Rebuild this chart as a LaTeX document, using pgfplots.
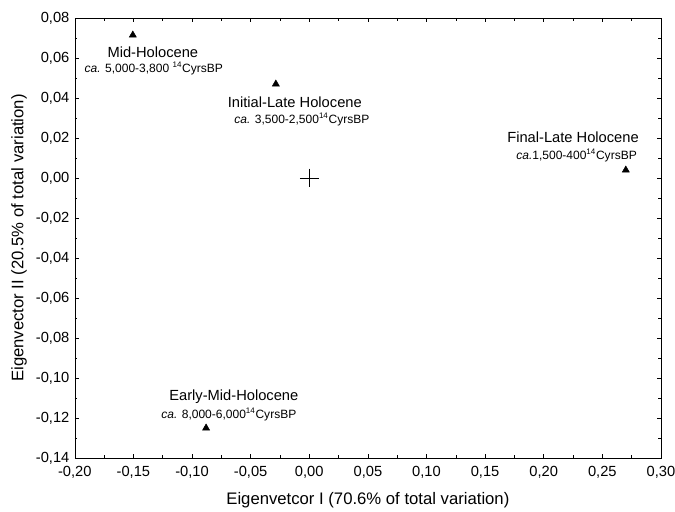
\documentclass[border=0pt]{standalone}
\usepackage{pgfplots}
\pgfplotsset{compat=1.18}
\usepackage{fontspec}
\setmainfont{Liberation Sans}
\begin{document}
\begin{tikzpicture}
\begin{axis}[
  name=ax,
  scale only axis,
  width=439pt, height=329.5pt,
  xmin=-0.20, xmax=0.30, ymin=-0.14, ymax=0.08,
  xtick={-0.20,-0.15,...,0.31}, ytick={-0.14,-0.12,...,0.081},
  minor tick num=1,
  tick align=inside,
  major tick length=3pt, minor tick length=2pt,
  tick style={black, thin},
  axis line style={black, thin},
  /pgf/number format/assume math mode=true,
  /pgf/number format/use comma,
  /pgf/number format/fixed,
  /pgf/number format/fixed zerofill,
  /pgf/number format/precision=2,
  ticklabel style={font=\fontsize{11}{13}\selectfont},
  xticklabel style={yshift=-3pt},
  yticklabel style={xshift=-0.5pt},
  scaled ticks=false,
  xlabel={Eigenvetcor I (70.6\% of total variation)},
  ylabel={Eigenvector II (20.5\% of total variation)},
  label style={font=\fontsize{12.5}{14}\selectfont},
  xlabel style={yshift=-3pt},
  ylabel style={yshift=0pt},
  clip=false,
]
\addplot[only marks, mark=triangle*, mark size=3pt, black] coordinates {
  (-0.1505,0.0715) (-0.0285,0.047) (0.270,0.004) (-0.088,-0.125)
};
\addplot[only marks, mark=+, mark size=7pt, black, thin] coordinates {(0,0)};
\node[font=\fontsize{11}{12}\selectfont] at (axis cs:-0.1334,0.063) {Mid-Holocene};
\node[font=\fontsize{9}{10}\selectfont] at (axis cs:-0.1326,0.0548) {\textit{ca.} 5,000-3,800 \textsuperscript{14}CyrsBP};
\node[font=\fontsize{11}{12}\selectfont] at (axis cs:-0.0123,0.038) {Initial-Late Holocene};
\node[font=\fontsize{9}{10}\selectfont] at (axis cs:-0.0063,0.0293) {\textit{ca.} 3,500-2,500\textsuperscript{14}CyrsBP};
\node[font=\fontsize{11}{12}\selectfont] at (axis cs:0.225,0.0205) {Final-Late Holocene};
\node[font=\fontsize{9}{10}\selectfont] at (axis cs:0.228,0.0112) {\textit{ca.}1,500-400\textsuperscript{14}CyrsBP};
\node[font=\fontsize{11}{12}\selectfont] at (axis cs:-0.0643,-0.1095) {Early-Mid-Holocene};
\node[font=\fontsize{9}{10}\selectfont] at (axis cs:-0.0686,-0.1183) {\textit{ca.} 8,000-6,000\textsuperscript{14}CyrsBP};
\end{axis}
\pgfresetboundingbox
\path[use as bounding box] ([xshift=-56pt,yshift=13.5pt]ax.north west) rectangle ([xshift=10.5pt,yshift=-40pt]ax.south east);
\end{tikzpicture}
\end{document}
